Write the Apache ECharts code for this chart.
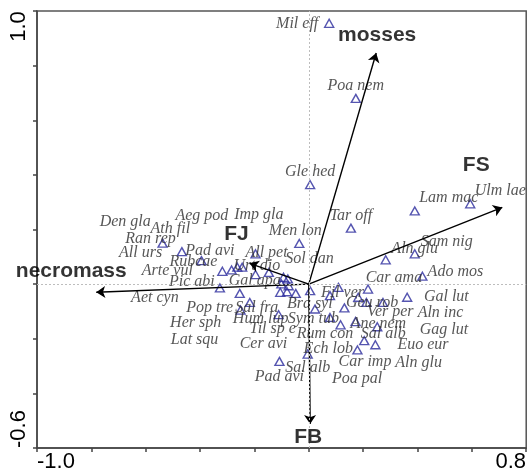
<!DOCTYPE html>
<html>
<head>
<meta charset="utf-8">
<script src="https://cdn.jsdelivr.net/npm/echarts@6/dist/echarts.min.js"></script>
<style>html,body{margin:0;padding:0;background:#fff;}#c{width:529px;height:475px;}</style>
</head>
<body>
<div id="c"></div>
<script>
// ---- data ----
const speciesNames = ['Mil eff','Poa nem','Gle hed','Lam mac','Ulm lae','Tar off','Men lon','Aln glu','Sam nig','Ado mos',
  'Ran rep','Pad avi','Rubcae','Arte vul','Pic abi','All urs','Ath fil','Den gla','All pet','Urt dio',
  'Imp gla','Sol dan','Aeg pod','Gal apa','Her sph','Lat squ','Til sp e','Cer avi','Pop tre','Sal fra',
  'Aet cyn','Hum lup','Sal alb','Pad avi',
  'Fil ver','Car ama','Aln inc','Bra syl','Ver per','Geu rob','Gag lut','Gal lut','Sym tub','Ane nem',
  'Rum con','Ech lob','Sal alb','Euo eur','Car imp','Aln glu','Poa pal'];
const speciesX = [0.075,0.173,0.005,0.390,0.594,0.155,-0.035,0.283,0.390,0.418,
  -0.538,-0.467,-0.395,-0.318,-0.327,-0.284,-0.263,-0.245,-0.196,-0.196,
  -0.147,-0.093,-0.077,-0.101,-0.074,-0.105,-0.080,-0.048,-0.254,-0.217,
  -0.251,-0.111,-0.108,-0.004,
  0.005,0.109,0.218,0.078,0.182,0.212,0.273,0.362,0.023,0.131,
  0.078,0.117,0.172,0.252,0.204,0.245,0.179];
const speciesY = [0.955,0.680,0.364,0.268,0.294,0.205,0.149,0.089,0.111,0.029,
  0.150,0.119,0.086,0.047,-0.014,0.052,0.062,0.062,0.111,0.035,
  0.043,0.025,0.019,0.001,-0.006,-0.030,-0.028,-0.034,-0.034,-0.067,
  -0.095,-0.112,-0.283,-0.256,
  -0.024,-0.012,-0.018,-0.042,-0.048,-0.067,-0.067,-0.048,-0.091,-0.087,
  -0.122,-0.149,-0.137,-0.156,-0.207,-0.222,-0.241];

const envNames = ['mosses','FS','FJ','FB','necromass'];
const envX = [0.248,0.712,-0.218,0.005,-0.782];
const envY = [0.846,0.281,0.076,-0.512,-0.030];

const xRange = [-1.0, 0.8];
const yRange = [-0.6, 1.0];
const tickStep = 0.2;
const xTickLabels = ['-1.0','0.8'];
const yTickLabels = ['-0.6','1.0'];

// ---- layout (label offsets in px, relative to the point) ----
const speciesLabelOffsets = [[-32,1],[0,-13],[0,-13],[34,-13],[30,-13],[0,-12.5],[-4,-13],[29,-11],[32,-12],[33,-4.5],
  [-12,-4.5],[28,-1],[-8,0.7],[-55,-0.7],[-28,-6],[-91,-17.6],[-67,-38.4],[-117,-45],[11,-0.6],[1.3,-9],
  [-10,-57.7],[26,-18.4],[-86,-63.3],[-26.7,-3.3],[-93,37],[-85.7,47.3],[-14.3,37.3],[-32.3,50.6],[-30,14.3],[7,5.3],
  [-85.7,-12.6],[-18,4.3],[28.3,6],[-28.3,22.7],
  [32.3,1.7],[55.5,-10],[72.5,23.7],[-20.2,8],[32,14.3],[5.7,0],[61,27.3],[39.2,-0.7],[-1.7,9.7],[34,16],
  [-5,16.6],[-12.3,24.3],[27.7,12.6],[45.7,18],[0.7,21],[43.2,18],[-0.3,29]];
const envLabelOffsets = [[1,-18],[-26,-42],[-13,-28.7],[-2,12.8],[-25,-20.7]];

const speciesData = speciesNames.map((n,i)=>({
  name:n, value:[speciesX[i],speciesY[i]],
  label:{offset:speciesLabelOffsets[i]}
}));
const arrowData = envNames.map((n,i)=>({coords:[[0,0],[envX[i],envY[i]]]}));
const envLabelData = envNames.map((n,i)=>({
  name:n, value:[envX[i],envY[i]], label:{offset:envLabelOffsets[i]}
}));

const tickFont = {fontFamily:'Liberation Sans, Arial', fontSize:22, color:'#000'};
const chart = echarts.init(document.getElementById('c'), null, {renderer:'canvas'});
chart.setOption({
  animation:false,
  backgroundColor:'#fff',
  grid:{left:37, right:0, top:11, bottom:27, show:true, borderColor:'#555', borderWidth:1.5},
  xAxis:{type:'value', min:xRange[0], max:xRange[1], interval:tickStep,
    axisLine:{show:true, onZero:false, lineStyle:{color:'#444', width:1.5}},
    axisTick:{show:true, length:4, lineStyle:{color:'#444', width:1.5}},
    splitLine:{show:false},
    axisLabel:{margin:3, showMinLabel:true, showMaxLabel:true,
      formatter:function(v){
        if(Math.abs(v-xRange[0])<1e-6) return '{l|'+xTickLabels[0]+'}';
        if(Math.abs(v-xRange[1])<1e-6) return '{r|'+xTickLabels[1]+'}';
        return '';
      },
      rich:{l:Object.assign({padding:[0,0,0,38]},tickFont), r:Object.assign({padding:[0,31,0,0]},tickFont)}
    }
  },
  yAxis:{type:'value', min:yRange[0], max:yRange[1], interval:tickStep,
    axisLine:{show:true, onZero:false, lineStyle:{color:'#444', width:1.5}},
    axisTick:{show:true, length:4, lineStyle:{color:'#444', width:1.5}},
    splitLine:{show:false},
    axisLabel:{margin:7, rotate:90, showMinLabel:true, showMaxLabel:true,
      formatter:function(v){
        if(Math.abs(v-yRange[0])<1e-6) return '{l|'+yTickLabels[0]+'}';
        if(Math.abs(v-yRange[1])<1e-6) return '{r|'+yTickLabels[1]+'}';
        return '';
      },
      rich:{l:Object.assign({padding:[0,0,0,38]},tickFont), r:Object.assign({padding:[0,31,0,0]},tickFont)}
    }
  },
  series:[
    {type:'scatter', data:speciesData, symbol:'triangle', symbolSize:[9,8], z:3,
      itemStyle:{color:'rgba(255,255,255,0)', borderColor:'#2a2a9c', borderWidth:1.4},
      label:{show:true, position:'inside', formatter:'{b}', align:'center', verticalAlign:'middle',
        fontFamily:'Liberation Serif, Times New Roman', fontStyle:'italic', fontSize:16, color:'#2c2c2c'},
      emphasis:{disabled:true},
      markLine:{silent:true, symbol:'none', label:{show:false}, animation:false,
        lineStyle:{color:'#bdbdbd', type:[2,2], width:1},
        data:[{xAxis:0},{yAxis:0}]}
    },
    {type:'lines', coordinateSystem:'cartesian2d', data:arrowData, z:4,
      symbol:['none','arrow'], symbolSize:9,
      lineStyle:{color:'#000', width:1.4, opacity:1}},
    {type:'scatter', data:envLabelData, symbolSize:0, z:5,
      label:{show:true, position:'inside', formatter:'{b}', align:'center', verticalAlign:'middle',
        fontFamily:'Liberation Sans, Arial', fontWeight:'bold', fontSize:21, color:'#000'},
      emphasis:{disabled:true}}
  ]
});
</script>
</body>
</html>
